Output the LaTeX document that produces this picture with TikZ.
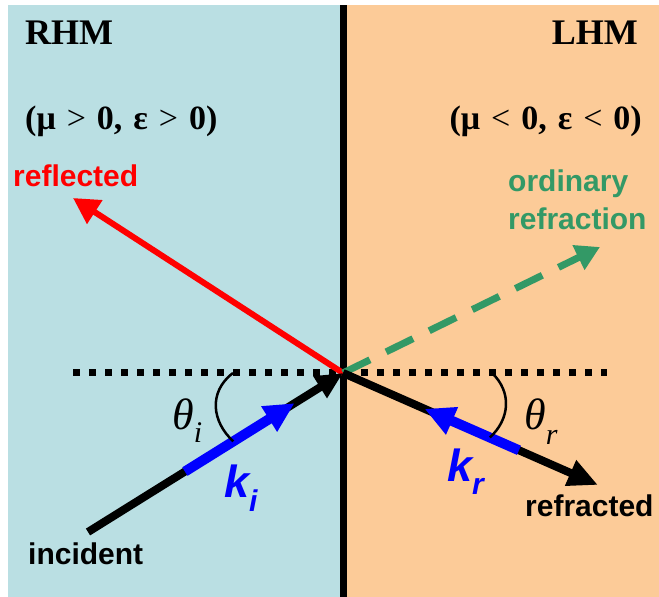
\documentclass[tikz,border=0pt]{standalone}
\usepackage{fontspec}
\setmainfont{Liberation Serif}
\newfontfamily\labelfont{Liberation Sans}
\usetikzlibrary{arrows.meta,calc}
\definecolor{rhmblue}{RGB}{186,223,227}
\definecolor{lhmorange}{RGB}{252,203,152}
\definecolor{refgreen}{RGB}{51,153,102}
\definecolor{kblue}{RGB}{0,0,255}

\begin{document}
\begin{tikzpicture}[x=1pt,y=1pt,
    title/.style={inner sep=0,font=\bfseries\fontsize{36}{40}\selectfont},
    cond/.style={inner sep=0,font={\bfseries\fontsize{34}{38}\selectfont\spaceskip=11pt\relax}},
    ray/.style={inner sep=0,font=\labelfont\bfseries\fontsize{30}{38}\selectfont},
    thlabel/.style={inner sep=0,font=\itshape\fontsize{44}{48}\selectfont},
    wave/.style={inner sep=0,text=kblue,font=\labelfont\bfseries\itshape\fontsize{45}{48}\selectfont}]
  \useasboundingbox (0,0) rectangle (659,597);
  \fill[rhmblue] (8,0) rectangle (343,592);
  \fill[lhmorange] (343,0) rectangle (659,592);
  \coordinate (O) at (343,224);
  \coordinate (NL) at (73,224);
  \coordinate (NR) at (607,224);
  \coordinate (R) at (73,399);
  \coordinate (G) at (600,350);
  \coordinate (I) at (88,65);
  \coordinate (T) at (598,112);
  \coordinate (KI1) at ($(I)!0.38!(O)$);
  \coordinate (KI2) at ($(I)!0.81!(O)$);
  \coordinate (KR1) at ($(O)!0.69!(T)$);
  \coordinate (KR2) at ($(O)!0.32!(T)$);
  \draw[line width=7,dash pattern=on 7pt off 9pt] (NL)--(NR);
  \draw[line width=7] (343,0)--(343,592);
  \draw[red,line width=6,-{Triangle[length=26pt,width=27pt]}] (O)--(R);
  \draw[refgreen,line width=7,dash pattern=on 30pt off 18pt,-{Triangle[length=24pt,width=26pt]}] (O)--(G);
  \draw[line width=8,-{Triangle[length=27pt,width=24pt]}] (I)--(O);
  \draw[kblue,line width=10,-{Triangle[length=30pt,width=28pt]}] (KI1)--(KI2);
  \draw[line width=8,-{Triangle[length=30pt,width=26pt]}] (O)--(T);
  \draw[kblue,line width=10,-{Triangle[length=30pt,width=28pt]}] (KR1)--(KR2);
  \draw[line width=2.5] (233,224) .. controls (208,205) and (212,175) .. ($(I)!0.57!(O)$);
  \draw[line width=2.5] (492,224) .. controls (512,205) and (510,178) .. ($(O)!0.576!(T)$);
  \node[title,anchor=base west] (rhm) at (25,552) {RHM};
  \node[title,anchor=base east] (lhm) at (638,552) {LHM};
  \node[cond,anchor=base west] (rcond) at (25,467) {(μ {\mdseries >} 0, ε {\mdseries >} 0)};
  \node[cond,anchor=base east] (lcond) at (642,467) {(μ {\mdseries <} 0, ε {\mdseries <} 0)};
  \node[ray,text=red,anchor=base west] (refl) at (13,410) {reflected};
  \node[ray,text=refgreen,anchor=north west,align=left] (ord) at (508,427) {ordinary\\refraction};
  \node[ray,anchor=base west] (inc) at (28,32) {incident};
  \node[ray,anchor=base west] (refr) at (525,80) {refracted};
  \node[thlabel,anchor=base west] (thi) at (172,167) {θ\raisebox{-13pt}{\fontsize{30}{32}\selectfont i}};
  \node[thlabel,anchor=base west] (thr) at (524,167) {θ\raisebox{-15pt}{\fontsize{30}{32}\selectfont r}};
  \node[wave,anchor=base west] (ki) at (224,99) {k\raisebox{-14pt}{\fontsize{30}{32}\selectfont i}};
  \node[wave,anchor=base west] (kr) at (447,115) {k\raisebox{-13pt}{\fontsize{30}{32}\selectfont r}};
\end{tikzpicture}
\end{document}
